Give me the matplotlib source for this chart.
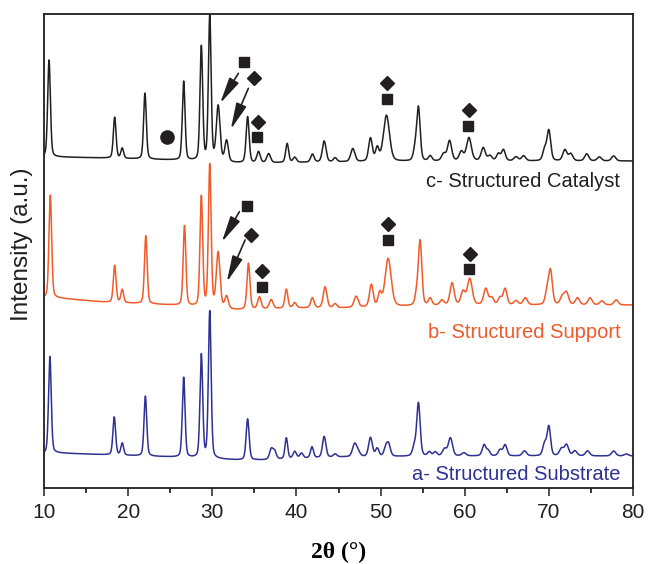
import numpy as np
import matplotlib
matplotlib.use("Agg")
import matplotlib.pyplot as plt

# ---------------- data ----------------
# intensity in arbitrary units (stacked patterns, offsets included)
two_theta_range = [10, 80]

# baseline control points (2theta, intensity)
a_base_x = [10, 11.5, 18, 25, 33, 36, 45, 60, 80]
a_base_y = [34, 35, 33, 31, 28, 28, 31, 32, 32]
b_base_x = [10, 11.5, 17, 25, 33, 40, 45, 60, 80]
b_base_y = [190, 190, 186, 183, 178, 180, 180, 183, 183]
c_base_x = [10, 11.5, 17, 25, 33, 36, 45, 60, 80]
c_base_y = [331, 331, 330, 328, 325, 325, 326, 327, 327]

# peaks: position (2theta), height above baseline, FWHM
a_pos = [10.7, 18.35, 19.3, 22.05, 26.6, 28.7, 29.7, 34.2, 37.0, 37.4, 38.8, 39.8,
         40.6, 41.85, 43.3, 44.6, 46.9, 47.3, 48.8, 49.6, 50.6, 50.95, 54.0, 54.5,
         55.8, 56.5, 57.6, 58.3, 59.9, 62.3, 62.8, 64.2, 64.8, 67.1, 69.5, 70.0,
         71.5, 72.1, 73.1, 74.6, 77.7, 79.2]
a_h = [97, 38, 12, 60, 80, 103, 147, 41, 10, 8, 21, 7,
       5, 11, 21, 3, 12, 5, 19, 8, 8, 12, 9, 53,
       4, 4, 7, 18, 3, 11, 5, 6, 11, 5, 12, 29,
       7, 11, 5, 5, 5, 2]
a_w = [0.38, 0.38, 0.38, 0.38, 0.38, 0.38, 0.38, 0.42, 0.48, 0.48, 0.38, 0.48,
       0.48, 0.42, 0.48, 0.48, 0.58, 0.58, 0.52, 0.48, 0.48, 0.52, 0.48, 0.48,
       0.48, 0.48, 0.58, 0.58, 0.58, 0.52, 0.48, 0.52, 0.52, 0.58, 0.52, 0.48,
       0.58, 0.58, 0.58, 0.58, 0.58, 0.58]

b_pos = [10.75, 18.4, 19.3, 22.1, 26.7, 28.7, 29.7, 30.7, 31.7, 34.3, 35.6, 37.0,
         38.8, 39.8, 41.9, 43.4, 44.6, 47.1, 48.9, 49.9, 50.9, 54.3, 54.7, 55.9,
         57.3, 58.5, 59.8, 60.6, 62.5, 63.2, 64.2, 64.8, 66.1, 67.2, 69.8, 70.2,
         71.6, 72.1, 73.4, 74.9, 76.3, 78.0]
b_h = [103, 37, 13, 68, 80, 110, 142, 55, 12, 46, 12, 9,
       19, 5, 10, 21, 4, 11, 22, 13, 48, 11, 64, 7,
       5, 22, 13, 26, 16, 7, 7, 16, 4, 7, 13, 33,
       8, 12, 7, 7, 4, 5]
b_w = [0.38, 0.38, 0.38, 0.38, 0.38, 0.38, 0.38, 0.52, 0.48, 0.42, 0.48, 0.52,
       0.42, 0.48, 0.48, 0.52, 0.48, 0.58, 0.52, 0.48, 0.85, 0.48, 0.48, 0.48,
       0.58, 0.58, 0.58, 0.68, 0.58, 0.58, 0.52, 0.52, 0.58, 0.58, 0.52, 0.52,
       0.58, 0.58, 0.58, 0.58, 0.58, 0.58]

c_pos = [10.6, 18.4, 19.3, 22.0, 26.6, 28.7, 29.7, 30.7, 31.7, 34.2, 35.5, 36.7,
         38.9, 39.8, 41.9, 43.3, 44.6, 46.7, 48.8, 49.6, 50.7, 54.1, 54.5, 55.9,
         57.5, 58.2, 59.6, 60.5, 62.2, 63.0, 64.0, 64.6, 66.1, 67.0, 69.5, 70.0,
         71.9, 72.6, 74.5, 76.0, 77.7]
c_h = [97, 41, 10, 66, 79, 114, 145, 55, 21, 46, 11, 9,
       19, 5, 8, 21, 4, 13, 23, 13, 46, 11, 53, 5,
       7, 20, 9, 23, 13, 5, 7, 11, 4, 5, 11, 30,
       11, 7, 7, 4, 5]
c_w = [0.38, 0.38, 0.38, 0.38, 0.38, 0.38, 0.38, 0.52, 0.48, 0.42, 0.48, 0.52,
       0.42, 0.48, 0.48, 0.52, 0.48, 0.58, 0.52, 0.48, 0.85, 0.48, 0.48, 0.48,
       0.58, 0.58, 0.58, 0.68, 0.58, 0.58, 0.52, 0.52, 0.58, 0.58, 0.52, 0.52,
       0.58, 0.58, 0.58, 0.58, 0.58]

labels = ["a- Structured Substrate", "b- Structured Support", "c- Structured Catalyst"]
label_y = [14, 156, 307]

# phase markers (2theta, intensity)
c_circle = [(24.63, 351)]
c_squares = [(33.78, 426), (35.33, 351), (50.75, 389), (60.38, 362)]
c_diamonds = [(34.97, 410), (35.45, 366), (50.75, 405), (60.45, 378)]
c_arrows = [((33.1, 414.7), (30.93, 384.7)), ((34.29, 399.7), (32.2, 358.7))]
b_squares = [(34.1, 282), (35.89, 201), (50.94, 248), (60.56, 219)]
b_diamonds = [(34.58, 253), (35.89, 217), (50.94, 264), (60.68, 234)]
b_arrows = [((33.22, 276.3), (31.13, 246)), ((33.9, 248), (31.72, 206))]

# ---------------- styling ----------------
col_a = "#2e3192"
col_b = "#f15a29"
col_c = "#231f20"
mark_col = "#231f20"

plt.rcParams['font.family'] = ['Liberation Sans', 'DejaVu Sans']

fig = plt.figure(figsize=(6.49, 5.64), dpi=100)
ax = fig.add_axes([44 / 649, 1 - 488 / 564, (633 - 44) / 649, (488 - 14) / 564])

x = np.arange(10, 80.0001, 0.02)


def pattern(bx, by, pos, h, w):
    y = np.interp(x, bx, by)
    for p, hh, ww in zip(pos, h, w):
        g = np.exp(-4 * np.log(2) * ((x - p) / ww) ** 2)
        l = 1.0 / (1 + 4 * ((x - p) / ww) ** 2)
        y = y + hh * (0.7 * g + 0.3 * l)
    return y


ya = pattern(a_base_x, a_base_y, a_pos, a_h, a_w)
yb = pattern(b_base_x, b_base_y, b_pos, b_h, b_w)
yc = pattern(c_base_x, c_base_y, c_pos, c_h, c_w)

ax.plot(x, ya, color=col_a, lw=1.1)
ax.plot(x, yb, color=col_b, lw=1.1)
ax.plot(x, yc, color=col_c, lw=1.1)

for (px, py) in c_circle:
    ax.plot(px, py, 'o', color=mark_col, ms=9.5)
for (px, py) in c_squares + b_squares:
    ax.plot(px, py, 's', color=mark_col, ms=7.5)
for (px, py) in c_diamonds + b_diamonds:
    ax.plot(px, py, 'D', color=mark_col, ms=7.0)
for (start, end) in c_arrows + b_arrows:
    ax.annotate("", xy=end, xytext=start,
                arrowprops=dict(arrowstyle="-|>,head_length=1.6,head_width=0.33",
                                color=mark_col, lw=1.2, shrinkA=0, shrinkB=0))

for lab, ly, col in zip(labels, label_y, [col_a, col_b, col_c]):
    ax.text(78.5, ly, lab, color=col, ha='right', va='center', fontsize=14.5)

ax.set_xlim(*two_theta_range)
ax.set_ylim(0, 474)
ax.set_yticks([])
ax.set_xticks(np.arange(10, 81, 10))
ax.set_xticks(np.arange(15, 80, 10), minor=True)
ax.tick_params(axis='x', which='major', direction='out', length=6, width=1.1,
               labelsize=15, pad=5, colors='#231f20')
ax.tick_params(axis='x', which='minor', direction='out', length=3.5, width=1.1)
for s in ax.spines.values():
    s.set_linewidth(1.3)
    s.set_color('#231f20')

fig.text(339 / 649, 1 - 552 / 564, "2θ (°)", ha='center', va='center',
         fontsize=17, fontweight='bold', family=['Liberation Serif', 'DejaVu Serif'])
fig.text(22 / 649, 1 - 244 / 564, "Intensity (a.u.)", ha='center', va='center',
         rotation=90, fontsize=17.5, color='#231f20')

fig.savefig("out.png", dpi=100)
